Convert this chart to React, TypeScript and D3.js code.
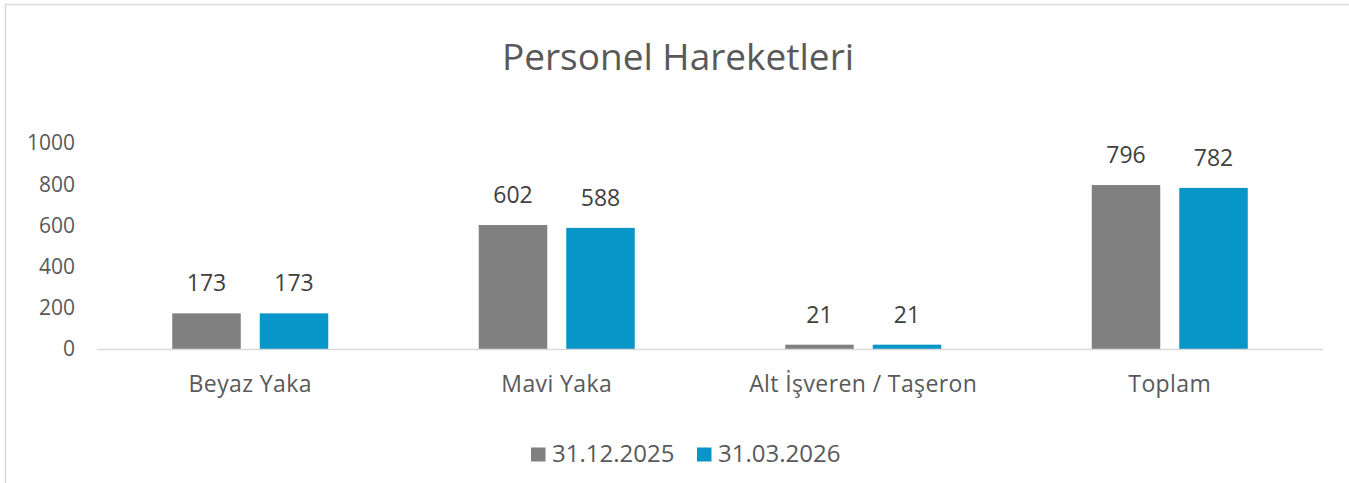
import React from 'react';
import * as d3 from 'd3';

// chart data
const categories = ['Beyaz Yaka', 'Mavi Yaka', 'Alt İşveren / Taşeron', 'Toplam'];
const seriesNames = ['31.12.2025', '31.03.2026'];
const values2025 = [173, 602, 21, 796];
const values2026 = [173, 588, 21, 782];
const yTicks = [0, 200, 400, 600, 800, 1000];
const colors = ['#808080', '#0895c8'];

const W = 1349;
const H = 483;
const FONT = '"Open Sans", "Noto Sans", sans-serif';

const App = () => {
    const margin = { top: 143, left: 97, right: 26, bottom: 134 };
    const plotW = W - margin.left - margin.right;
    const y0 = H - margin.bottom;

    const x = d3.scaleBand<string>()
        .domain(categories)
        .range([margin.left, margin.left + plotW]);

    const y = d3.scaleLinear()
        .domain([0, 1000])
        .range([y0, margin.top]);

    const barW = x.bandwidth() * 0.2235;
    const gap = 19;

    const series = [values2025, values2026];

    return (
        <svg width={W} height={H} style={{ position: 'absolute', left: 0, top: 0, display: 'block', background: '#fff' }}>
            <rect x={5.5} y={4.5} width={W + 10} height={H + 10} fill="#fff" stroke="#d9d9d9" strokeWidth={1.5} />

            <text x={678} y={70} textAnchor="middle" fontFamily={FONT} fontSize={37} fill="#595959">
                Personel Hareketleri
            </text>

            {/* y axis labels */}
            {yTicks.map(t => (
                <text key={t} x={75} y={y(t)} dy="0.35em" textAnchor="end" fontFamily={FONT} fontSize={21} fill="#595959">
                    {t}
                </text>
            ))}

            {/* bars */}
            {series.map((vals, si) => vals.map((v, ci) => {
                const cx = (x(categories[ci]) as number) + x.bandwidth() / 2;
                const bx = si === 0 ? cx - gap / 2 - barW : cx + gap / 2;
                return (
                    <g key={si + '-' + ci}>
                        <rect x={bx} y={y(v)} width={barW} height={y0 - y(v)} fill={colors[si]} />
                        <text x={bx + barW / 2} y={y(v) - 22} textAnchor="middle" fontFamily={FONT} fontSize={23} fill="#404040">
                            {v}
                        </text>
                    </g>
                );
            }))}

            {/* baseline */}
            <line x1={margin.left} x2={margin.left + plotW} y1={y0 + 0.5} y2={y0 + 0.5} stroke="#d9d9d9" strokeWidth={1.5} />

            {/* category labels */}
            {categories.map(c => (
                <text key={c} x={(x(c) as number) + x.bandwidth() / 2} y={392} textAnchor="middle" fontFamily={FONT} fontSize={23} letterSpacing={0.4} fill="#595959">
                    {c}
                </text>
            ))}

            {/* legend */}
            {seriesNames.map((s, i) => {
                const lx = i === 0 ? 531 : 697;
                return (
                    <g key={s}>
                        <rect x={lx} y={447.5} width={14.5} height={14} fill={colors[i]} />
                        <text x={lx + 21} y={462} fontFamily={FONT} fontSize={24} fill="#595959">{s}</text>
                    </g>
                );
            })}
        </svg>
    );
};

export default App;
